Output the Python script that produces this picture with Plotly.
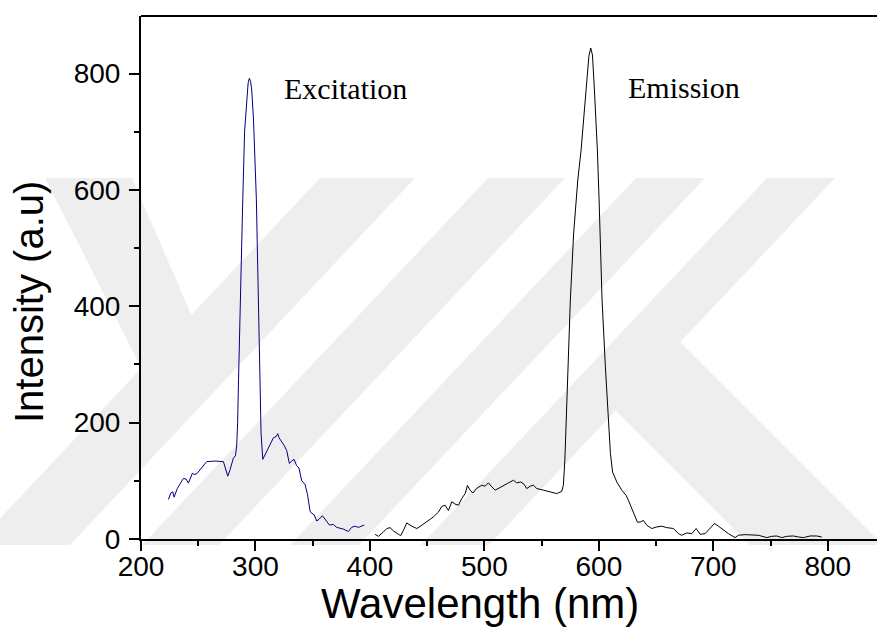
import plotly.graph_objects as go

# ---------------- data ----------------
ex_x = [224, 226, 227.7, 228.9, 231.8, 237, 239.4, 241.4, 244.9, 246.3, 248.7, 251.6, 257.4, 264.7, 272,
        275.8, 277.8, 280.7, 282.5, 283.6, 284.4, 285.2, 286.6, 288.9, 290.5, 292.4, 293.6, 294.7, 295.8,
        296.8, 298.3, 300.8, 302.6, 303.8, 304.9, 306.4, 309.9, 312.8, 315.7, 318, 319.5, 320.6, 323, 325,
        327.3, 329.6, 331.7, 333.7, 336, 338, 340.4, 343.3, 345.4, 347.7, 349.2, 351.2, 353.5, 355.6, 358.5,
        360.8, 364.6, 368, 371, 376.8, 381.2, 384, 387, 390, 395]
ex_y = [68, 79, 81, 72, 87, 104, 103, 96, 113, 111, 112, 119, 133, 134, 133,
        108, 119, 139, 143, 160, 200, 273, 411, 583, 700, 760, 784, 792, 786,
        770, 720, 583, 411, 260, 181, 137, 150, 161, 174, 176, 181, 174, 168, 161,
        152, 130, 134, 137, 126, 122, 100, 94, 77, 48, 44, 42, 31, 34, 40,
        34, 24, 25, 20, 17, 13, 20, 22, 20, 24]

em_x = [404.5, 407.4, 411.7, 414.7, 417.6, 420.5, 425, 427, 429.3, 432.2, 436.6, 441, 445.3, 451.1, 455.5,
        459.9, 462.8, 465.7, 468.6, 471.5, 474.4, 477.3, 480.2, 483.2, 485.2, 487.5, 489.9, 493.3, 497.7,
        500.6, 503.5, 506.5, 509.4, 513.7, 518.1, 521, 525.4, 528.3, 531.8, 534.7, 537, 540, 542.8, 545.8,
        551.6, 557.4, 563.2, 567.6, 569, 570.3, 572.2, 575.1, 578, 581.6, 584.5, 587, 589.4, 591.3, 592.9,
        594.4, 595.8, 598.7, 600.2, 602.8, 605.7, 608.6, 610.1, 612, 615.7, 620, 623.8, 625.8, 628.8, 631.7,
        633.7, 636, 638.9, 641.9, 646.2, 650.6, 655, 659.3, 665.2, 669.5, 672.4, 676.8, 681.2, 685, 688.5,
        692.8, 697.2, 701, 704.5, 708.9, 713.2, 719, 721.9, 727.8, 733.6, 739.4, 746.7, 751.1, 755.4, 759.8,
        764.2, 770, 774.4, 778.7, 784.6, 790.4, 794.7]
em_y = [8, 4.6, 12, 18, 19.5, 14, 8, 6, 15, 27.6, 22, 18, 23.6, 32, 38,
        46.5, 56, 58, 49, 64, 60, 58, 69.5, 78, 92, 84, 79, 87, 92.5,
        90.7, 96.5, 89.6, 84, 88.4, 94, 96.5, 101, 96.5, 98, 94, 86.7, 90.7, 92.5, 86.7,
        84, 81, 78, 82, 92.5, 136, 239, 411, 526, 617, 669, 726, 784, 830, 844,
        832, 784, 669, 583, 411, 296, 181, 147, 115, 98, 84, 75, 66.6, 52, 41,
        29, 29, 32, 23.6, 18, 20.7, 22, 19.6, 18, 9.2, 6.4, 10.4, 9.2, 18, 8.1,
        9.2, 18, 26.5, 22, 15, 9.2, 2.4, 6.4, 7.5, 6.4, 6.4, 2.4, 4.6, 5.2, 2.4,
        4.6, 5.2, 3.5, 2.4, 5.2, 5.2, 3.5]

x_ticks = [200, 300, 400, 500, 600, 700, 800]
y_ticks = [0, 200, 400, 600, 800]
labels = ["Excitation", "Emission"]
label_pos = [(323, 774), (624, 776)]

# ---------------- layout geometry (pixels) ----------------
W, H = 877, 641
L, R, T, B = 141, 0, 16, 102
PW, PH = W - L - R, H - T - B


def px(x, y):
    return (x - L) / PW, (H - B - y) / PH


def poly(points):
    pts = [px(x, y) for x, y in points]
    d = "M " + " L ".join(f"{a:.4f},{b:.4f}" for a, b in pts) + " Z"
    return dict(type="path", xref="paper", yref="paper", path=d,
                fillcolor="#eeeeee", line=dict(width=0), layer="below")


# watermark bands (background decoration)
wm = [
    [(45, 178), (132, 178), (200, 335), (150, 385)],
    [(320, 178), (415, 178), (70, 545), (-25, 545)],
    [(488, 178), (565, 178), (219, 545), (142, 545)],
    [(636, 178), (705, 178), (359, 545), (290, 545)],
    [(767, 178), (835, 178), (489, 545), (421, 545)],
    [(660, 322), (877, 539), (877, 545), (750, 545), (600, 395)],
]
shapes = [poly(p) for p in wm]
shapes.append(dict(type="line", xref="paper", yref="paper", x0=0, x1=1, y0=1, y1=1,
                   line=dict(color="black", width=2), layer="above"))

fig = go.Figure()
fig.add_trace(go.Scatter(x=ex_x, y=ex_y, mode="lines", line=dict(color="#000080", width=1),
                         showlegend=False))
fig.add_trace(go.Scatter(x=em_x, y=em_y, mode="lines", line=dict(color="black", width=1),
                         showlegend=False))

tickfont = dict(family="Liberation Sans, Arial, sans-serif", size=28, color="black")
fig.update_xaxes(range=[200, 843], tickvals=x_ticks, ticks="outside", ticklen=10, tickwidth=2,
                 tickcolor="black", showline=True, linewidth=2, linecolor="black", mirror=False,
                 showgrid=False, zeroline=False, tickfont=tickfont, ticklabelstandoff=-9,
                 minor=dict(dtick=50, tick0=200, ticks="outside", ticklen=5, tickwidth=2, tickcolor="black"))
fig.update_yaxes(range=[0, 899], tickvals=y_ticks, ticks="outside", ticklen=10, tickwidth=2,
                 tickcolor="black", showline=True, linewidth=2, linecolor="black", mirror=False,
                 showgrid=False, zeroline=False, tickfont=tickfont, ticklabelstandoff=3,
                 minor=dict(dtick=100, tick0=0, ticks="outside", ticklen=5, tickwidth=2, tickcolor="black"))

annotations = []
for txt, (ax, ay) in zip(labels, label_pos):
    annotations.append(dict(x=ax, y=ay, xref="x", yref="y", text=txt, showarrow=False,
                            xanchor="left", yanchor="middle",
                            font=dict(family="Liberation Serif, Times New Roman, serif", size=30,
                                      color="black")))
annotations.append(dict(text="Wavelength (nm)", xref="paper", yref="paper",
                        x=(480 - L) / PW, y=(H - B - 603) / PH, showarrow=False,
                        xanchor="center", yanchor="middle",
                        font=dict(family="Liberation Sans, Arial, sans-serif", size=42, color="black")))
annotations.append(dict(text="Intensity (a.u)", xref="paper", yref="paper",
                        x=(29 - L) / PW, y=(H - B - 302) / PH, showarrow=False, textangle=-90,
                        xanchor="center", yanchor="middle",
                        font=dict(family="Liberation Sans, Arial, sans-serif", size=40, color="black")))

fig.update_layout(width=W, height=H, margin=dict(l=L, r=R, t=T, b=B, autoexpand=False),
                  paper_bgcolor="white", plot_bgcolor="rgba(0,0,0,0)",
                  shapes=shapes, annotations=annotations, showlegend=False)

fig.write_html("out.html")
